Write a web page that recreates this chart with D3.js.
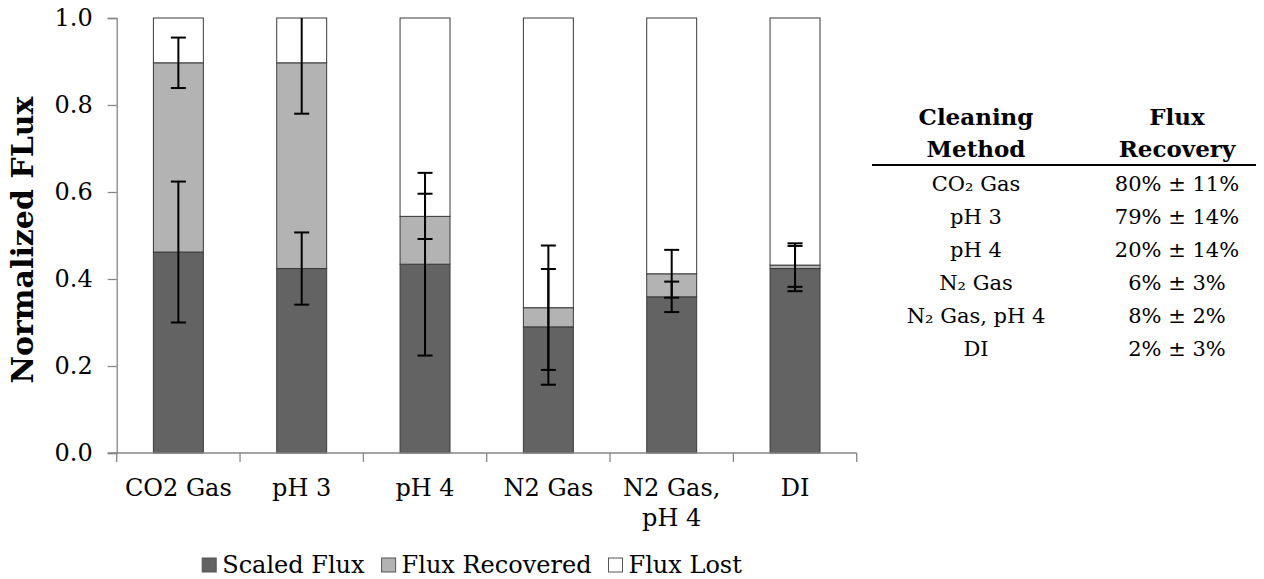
<!DOCTYPE html>
<html>
<head>
<meta charset="utf-8">
<script src="https://cdn.jsdelivr.net/npm/d3@7"></script>
<style>
  body { margin: 0; background: #fff; }
  text { font-family: "DejaVu Serif", serif; fill: #000; }
  .bold { font-weight: bold; }
</style>
</head>
<body>
<div id="chart"></div>
<script>
// data
const categories = ["CO2 Gas", "pH 3", "pH 4", "N2 Gas", "N2 Gas,|pH 4", "DI"];
const scaledFlux = [0.462, 0.424, 0.434, 0.290, 0.359, 0.424];
const fluxRecovered = [0.435, 0.473, 0.110, 0.044, 0.053, 0.008];
const scaledErr = [0.162, 0.083, 0.210, 0.133, 0.035, 0.052];
const recoveredErr = [0.058, 0.117, 0.052, 0.143, 0.055, 0.050];
const yTicks = [0, 0.2, 0.4, 0.6, 0.8, 1.0];
const seriesNames = ["Scaled Flux", "Flux Recovered", "Flux Lost"];
const seriesColors = ["#636363", "#b3b3b3", "#ffffff"];

const tableHead = [["Cleaning", "Method"], ["Flux", "Recovery"]];
const tableMethods = ["CO\u2082 Gas", "pH 3", "pH 4", "N\u2082 Gas", "N\u2082 Gas, pH 4", "DI"];
const tableRecovery = ["80% \u00b1 11%", "79% \u00b1 14%", "20% \u00b1 14%", "6% \u00b1 3%", "8% \u00b1 2%", "2% \u00b1 3%"];

const width = 1264, height = 579;
const plotLeft = 116.7, plotRight = 856.7, plotTop = 18, plotBottom = 453;

const svg = d3.select("#chart").append("svg")
    .attr("width", width)
    .attr("height", height);

const rows = categories.map((c, i) => ({
    cat: c,
    scaled: scaledFlux[i],
    recovered: fluxRecovered[i],
    lost: 1 - scaledFlux[i] - fluxRecovered[i]
}));

const x = d3.scaleBand()
    .domain(categories)
    .range([plotLeft, plotRight])
    .paddingInner(0.595)
    .paddingOuter(0.2975);

const y = d3.scaleLinear().domain([0, 1]).range([plotBottom, plotTop]);

const stack = d3.stack().keys(["scaled", "recovered", "lost"]);
const layers = stack(rows);

// bars
svg.append("g").selectAll("g")
    .data(layers)
    .enter().append("g")
    .attr("fill", (d, i) => seriesColors[i])
    .selectAll("rect")
    .data(d => d)
    .enter().append("rect")
    .attr("x", d => x(d.data.cat))
    .attr("y", d => y(d[1]))
    .attr("width", x.bandwidth())
    .attr("height", d => y(d[0]) - y(d[1]))
    .attr("stroke", "#3a3a3a")
    .attr("stroke-width", 1);

// axes
const axisColor = "#868686";
const yAxis = svg.append("g")
    .attr("transform", `translate(${plotLeft},0)`)
    .call(d3.axisLeft(y).tickValues(yTicks).tickFormat(d3.format(".1f")).tickSize(9).tickPadding(15));
yAxis.select(".domain").attr("stroke", axisColor).attr("stroke-width", 1.3);
yAxis.selectAll(".tick line").attr("stroke", axisColor).attr("stroke-width", 1.3);
yAxis.selectAll(".tick text")
    .style("font-size", "24px")
    .attr("fill", "#000");

const step = x.step();
const edges = categories.map(c => x(c) - (step - x.bandwidth()) / 2);
edges.push(plotRight);

const xAxis = svg.append("g");
xAxis.append("line")
    .attr("x1", plotLeft - 9).attr("x2", plotRight)
    .attr("y1", plotBottom).attr("y2", plotBottom)
    .attr("stroke", axisColor).attr("stroke-width", 1.3);
xAxis.selectAll(".xt")
    .data(edges)
    .enter().append("line")
    .attr("x1", d => d).attr("x2", d => d)
    .attr("y1", plotBottom).attr("y2", plotBottom + 9)
    .attr("stroke", axisColor).attr("stroke-width", 1.3);

const xLabels = xAxis.selectAll(".xl")
    .data(categories)
    .enter().append("text")
    .attr("text-anchor", "middle")
    .attr("x", d => x(d) + x.bandwidth() / 2)
    .attr("y", plotBottom + 43)
    .style("font-size", "24px");
xLabels.each(function (d) {
    const parts = d.split("|");
    parts.forEach((p, i) => {
        d3.select(this).append("tspan")
            .attr("x", x(d) + x.bandwidth() / 2)
            .attr("dy", i === 0 ? 0 : 30)
            .text(p);
    });
});

// error bars
const errs = [];
rows.forEach((r, i) => {
    errs.push({ cat: r.cat, v: r.scaled, e: scaledErr[i] });
    errs.push({ cat: r.cat, v: r.scaled + r.recovered, e: recoveredErr[i] });
});
const capW = 7.5;
const eg = svg.append("g").attr("stroke", "#000").attr("stroke-width", 2);
errs.forEach(d => {
    const cx = x(d.cat) + x.bandwidth() / 2;
    const hi = Math.min(1, d.v + d.e), lo = d.v - d.e;
    eg.append("line").attr("x1", cx).attr("x2", cx).attr("y1", y(hi)).attr("y2", y(lo));
    if (d.v + d.e <= 1) {
        eg.append("line").attr("x1", cx - capW).attr("x2", cx + capW).attr("y1", y(hi)).attr("y2", y(hi));
    }
    eg.append("line").attr("x1", cx - capW).attr("x2", cx + capW).attr("y1", y(lo)).attr("y2", y(lo));
});

// y label
svg.append("text")
    .attr("class", "bold")
    .attr("transform", "translate(33,240) rotate(-90)")
    .attr("text-anchor", "middle")
    .style("font-size", "30px")
    .text("Normalized FLux");

// legend, centred under the plot
const legend = svg.append("g");
let lx = 0;
seriesNames.forEach((name, i) => {
    legend.append("rect")
        .attr("x", lx).attr("y", 558)
        .attr("width", 14).attr("height", 14)
        .attr("fill", seriesColors[i])
        .attr("stroke", "#555").attr("stroke-width", 1);
    const t = legend.append("text")
        .attr("x", lx + 20).attr("y", 573)
        .style("font-size", "24px")
        .text(name);
    lx += 20 + t.node().getComputedTextLength() + (i < seriesNames.length - 1 ? 17 : 0);
});
legend.attr("transform", `translate(${472 - lx / 2},0)`);

// table
const colX = [976, 1177];
const table = svg.append("g");
tableHead.forEach((lines, c) => {
    lines.forEach((s, j) => {
        table.append("text")
            .attr("class", "bold")
            .attr("x", colX[c]).attr("y", 125 + j * 32)
            .attr("text-anchor", "middle")
            .style("font-size", "23px")
            .text(s);
    });
});
table.append("line")
    .attr("x1", 872).attr("x2", 1256)
    .attr("y1", 165).attr("y2", 165)
    .attr("stroke", "#000").attr("stroke-width", 2);
tableMethods.forEach((m, i) => {
    table.append("text")
        .attr("x", colX[0]).attr("y", 191 + i * 33)
        .attr("text-anchor", "middle")
        .style("font-size", "21px")
        .text(m);
    table.append("text")
        .attr("x", colX[1]).attr("y", 191 + i * 33)
        .attr("text-anchor", "middle")
        .style("font-size", "21px")
        .text(tableRecovery[i]);
});
</script>
</body>
</html>
